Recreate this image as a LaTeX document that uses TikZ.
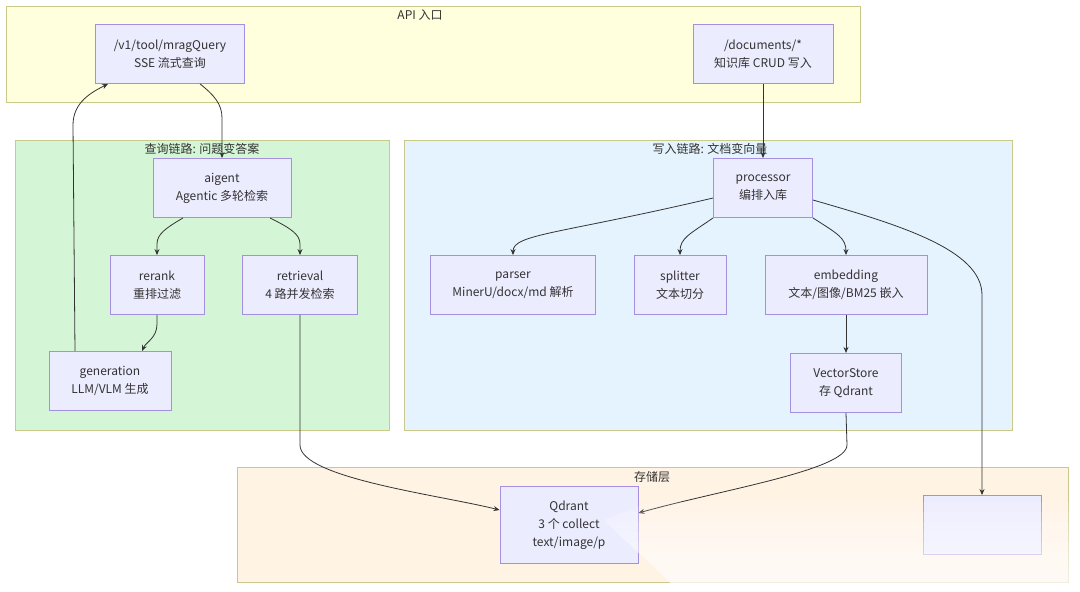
\documentclass[tikz,border=0pt]{standalone}
\usepackage{fontspec}
\setmainfont{Noto Sans CJK SC}
\usepackage{xcolor}
\usepackage{tikz}
\usetikzlibrary{arrows.meta,positioning}

\definecolor{boxfill}{HTML}{ECECFF}
\definecolor{boxline}{HTML}{A58FE0}
\definecolor{laneline}{HTML}{C9C98A}
\definecolor{apifill}{HTML}{FFFFDE}
\definecolor{queryfill}{HTML}{D5F6D6}
\definecolor{writefill}{HTML}{E4F3FD}
\definecolor{storefill}{HTML}{FFF3E3}
\definecolor{ink}{HTML}{333333}

\begin{document}
\begin{tikzpicture}[x=1pt,y=-1pt,>={Stealth[length=6pt,width=5pt]},
	box/.style={draw=boxline,fill=boxfill,line width=0.9pt,align=center,inner sep=0pt,
		minimum height=59pt,text=ink,font=\fontsize{12}{18}\selectfont},
	lane/.style={draw=laneline,line width=0.9pt},
	lanetitle/.style={text=ink,font=\fontsize{12}{14}\selectfont,inner sep=0pt},
	link/.style={draw=ink,line width=0.8pt,->}]
	\useasboundingbox[fill=white] (0,0) rectangle (1080,592);

	\draw[lane,fill=apifill] (6,6) rectangle (860,102);
	\draw[lane,fill=queryfill] (15,140) rectangle (389,430);
	\draw[lane,fill=writefill] (404,140) rectangle (1012,430);
	\draw[lane,fill=storefill] (237,467) rectangle (1068,582);
	\node[lanetitle] (apit) at (420,15) {API 入口};
	\node[lanetitle] (queryt) at (202,149) {查询链路: 问题变答案};
	\node[lanetitle] (writet) at (710,149) {写入链路: 文档变向量};
	\node[lanetitle] (storet) at (652,477) {存储层};

	\node[box,minimum width=149pt] (mrag) at (170,54) {/v1/tool/mragQuery\\SSE 流式查询};
	\node[box,minimum width=140pt] (docs) at (763,54) {/documents/*\\知识库 CRUD 写入};
	\node[box,minimum width=138pt] (aigent) at (222,188) {aigent\\Agentic 多轮检索};
	\node[box,minimum width=94pt] (rerank) at (157,285) {rerank\\重排过滤};
	\node[box,minimum width=115pt] (retr) at (300,285) {retrieval\\4 路并发检索};
	\node[box,minimum width=122pt] (gen) at (110,381) {generation\\LLM/VLM 生成};
	\node[box,minimum width=99pt] (proc) at (763,188) {processor\\编排入库};
	\node[box,minimum width=165pt] (parser) at (513,285) {parser\\MinerU/docx/md 解析};
	\node[box,minimum width=92pt] (split) at (680,285) {splitter\\文本切分};
	\node[box,minimum width=162pt] (emb) at (846,285) {embedding\\文本/图像/BM25 嵌入};
	\node[box,minimum width=111pt,below=38pt of emb] (vs) {VectorStore\\存 Qdrant};
	\node[box,minimum width=138pt,minimum height=77pt] (qd) at (569,525) {Qdrant\\3 个 collect\\text/image/p};
	\node[box,minimum width=118pt] (blob) at (982,525) {};

	\path[link] ([xshift=30pt]mrag.south) .. controls (214,95) and (222,104) .. (222,118) -- (aigent.north);
	\path[link] (docs.south) -- (proc.north);
	\path[link] ([xshift=-39pt]aigent.south) .. controls (166,228) and (157,234) .. (157,244) -- (rerank.north);
	\path[link] ([xshift=48pt]aigent.south) .. controls (290,228) and (300,234) .. (300,244) -- (retr.north);
	\path[link] (rerank.south) -- (157,324) .. controls (157,338) and (146,342) .. ([xshift=32pt]gen.north);
	\path[link] ([xshift=-35pt]gen.north) -- (73,125) .. controls (73,102) and (92,92) .. ([xshift=-62pt]mrag.south);
	\path[link] (retr.south) -- (300,445) .. controls (300,478) and (440,495) .. ([yshift=15pt]qd.west);
	\path[link] ([yshift=-10pt]proc.west) .. controls (560,234) and (513,234) .. (parser.north);
	\path[link] (proc.south west) .. controls (690,234) and (680,238) .. (split.north);
	\path[link] (proc.south east) .. controls (838,234) and (846,238) .. (emb.north);
	\path[link] ([yshift=-12pt]proc.east) .. controls (900,225) and (982,250) .. (982,295) -- (blob.north);
	\path[link] (emb.south) -- (vs.north);
	\path[link] (vs.south) -- (847,445) .. controls (847,470) and (720,490) .. ([yshift=12pt]qd.east);

	\begin{scope}
		\clip (650,502) -- (1080,502) -- (1080,592) -- (680,592) -- (604,520) -- cycle;
		\foreach \k in {0,...,8}
			\fill[white,opacity=0.15] (600,502+10*\k) rectangle (1080,592);
	\end{scope}
\end{tikzpicture}
\end{document}
